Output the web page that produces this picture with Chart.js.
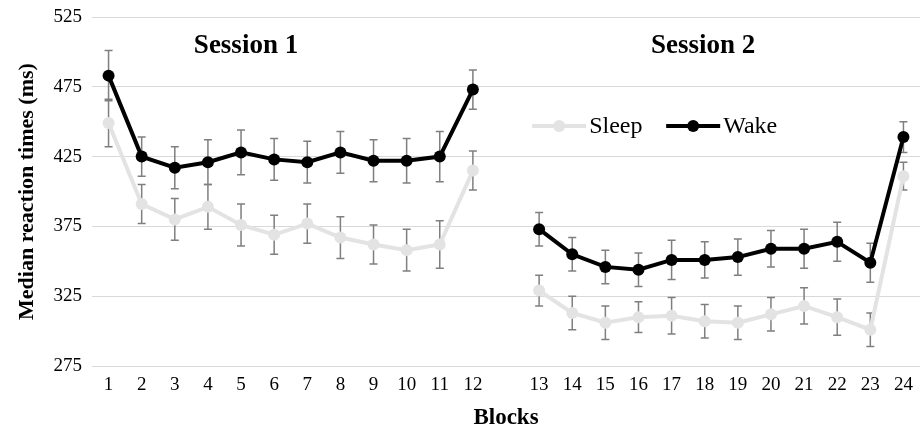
<!DOCTYPE html>
<html>
<head>
<meta charset="utf-8">
<script src="https://cdn.jsdelivr.net/npm/chart.js@4"></script>
<style>
  html, body { margin: 0; padding: 0; background: #fff; }
  #wrap { width: 921px; height: 431px; }
</style>
</head>
<body>
<div id="wrap"><canvas id="chart" width="921" height="431"></canvas></div>
<script>
// Blocks (empty slot separates the two sessions)
const blocks = ['1','2','3','4','5','6','7','8','9','10','11','12','',
                '13','14','15','16','17','18','19','20','21','22','23','24'];

const sleepRT = [449, 391, 380, 389, 376, 369, 377, 367, 362, 358, 362, 415, null,
                 329, 313, 306, 310, 311, 307, 306, 312, 318, 310, 301, 411];
const sleepErr = [17, 14, 15, 16, 15, 14, 14, 15, 14, 15, 17, 14, null,
                  11, 12, 12, 11, 13, 12, 12, 12, 13, 13, 12, 10];

const wakeRT = [483, 425, 417, 421, 428, 423, 421, 428, 422, 422, 425, 473, null,
                373, 355, 346, 344, 351, 351, 353, 359, 359, 364, 349, 439];
const wakeErr = [18, 14, 15, 16, 16, 15, 15, 15, 15, 16, 18, 14, null,
                 12, 12, 12, 12, 14, 13, 13, 13, 14, 14, 14, 11];

const yTicks = [275, 325, 375, 425, 475, 525];

const sessions = [
    { text: 'Session 1', at: 4.15 },
    { text: 'Session 2', at: 17.95 }
];

const sleepColor = '#e3e3e3';
const wakeColor = '#000000';
const serif = "'Liberation Serif', 'Times New Roman', serif";

// error bars, drawn under the lines
const errorBars = {
    id: 'errorBars',
    beforeDatasetsDraw(chart) {
        const ctx = chart.ctx;
        const x = chart.scales.x, y = chart.scales.y;
        const errs = [sleepErr, wakeErr];
        ctx.save();
        ctx.strokeStyle = '#7f7f7f';
        ctx.lineWidth = 1.5;
        chart.data.datasets.forEach(function(ds, d) {
            ds.data.forEach(function(v, i) {
                if (v === null) return;
                const px = x.getPixelForValue(i);
                const top = y.getPixelForValue(v + errs[d][i]);
                const bot = y.getPixelForValue(v - errs[d][i]);
                ctx.beginPath();
                ctx.moveTo(px, top); ctx.lineTo(px, bot);
                ctx.moveTo(px - 4, top); ctx.lineTo(px + 4, top);
                ctx.moveTo(px - 4, bot); ctx.lineTo(px + 4, bot);
                ctx.stroke();
            });
        });
        ctx.restore();
    }
};

// session titles and the in-plot legend
const annotations = {
    id: 'annotations',
    afterDraw(chart) {
        const ctx = chart.ctx;
        const x = chart.scales.x, y = chart.scales.y;
        ctx.save();
        ctx.fillStyle = '#000';
        ctx.textAlign = 'center';
        ctx.textBaseline = 'middle';
        ctx.font = 'bold 27px ' + serif;
        sessions.forEach(function(s) {
            ctx.fillText(s.text, x.getPixelForValue(s.at), y.getPixelForValue(504));
        });

        const ly = y.getPixelForValue(447);
        let lx = x.getPixelForValue(12.79);
        ctx.textAlign = 'left';
        ctx.font = '24px ' + serif;
        chart.data.datasets.forEach(function(ds) {
            ctx.strokeStyle = ds.borderColor;
            ctx.lineWidth = 4;
            ctx.beginPath();
            ctx.moveTo(lx, ly); ctx.lineTo(lx + 54, ly);
            ctx.stroke();
            ctx.fillStyle = ds.borderColor;
            ctx.beginPath();
            ctx.arc(lx + 27, ly, 6, 0, Math.PI * 2);
            ctx.fill();
            ctx.fillStyle = '#000';
            ctx.fillText(ds.label, lx + 57, ly + 1);
            lx += 134;
        });
        ctx.restore();
    }
};

new Chart(document.getElementById('chart'), {
    type: 'line',
    data: {
        labels: blocks,
        datasets: [
            {
                label: 'Sleep',
                data: sleepRT,
                borderColor: sleepColor,
                backgroundColor: sleepColor,
                borderWidth: 4,
                pointRadius: 6,
                pointBorderWidth: 0,
                pointBackgroundColor: sleepColor,
                spanGaps: false,
                tension: 0
            },
            {
                label: 'Wake',
                data: wakeRT,
                borderColor: wakeColor,
                backgroundColor: wakeColor,
                borderWidth: 4,
                pointRadius: 6,
                pointBorderWidth: 0,
                pointBackgroundColor: wakeColor,
                spanGaps: false,
                tension: 0
            }
        ]
    },
    options: {
        responsive: false,
        animation: false,
        layout: { autoPadding: false, padding: { top: 17, right: 1, bottom: 0, left: 0 } },
        plugins: {
            legend: { display: false },
            tooltip: { enabled: false }
        },
        scales: {
            x: {
                type: 'category',
                offset: true,
                grid: { display: false, drawTicks: false },
                border: { display: false },
                ticks: {
                    color: '#000',
                    padding: 8,
                    autoSkip: false,
                    maxRotation: 0,
                    font: { family: serif, size: 19 }
                },
                title: {
                    display: true,
                    text: 'Blocks',
                    color: '#000',
                    padding: { top: 0, bottom: 0 },
                    font: { family: serif, size: 23, weight: 'bold', lineHeight: 1.1 }
                },
                afterFit(scale) {
                    scale.height = 65;
                    scale.paddingLeft = 0;
                    scale.paddingRight = 0;
                }
            },
            y: {
                min: 275,
                max: 525,
                afterBuildTicks(scale) {
                    scale.ticks = yTicks.map(function(v) { return { value: v }; });
                },
                grid: { color: '#d9d9d9', lineWidth: 1, drawTicks: false },
                border: { display: false },
                ticks: {
                    color: '#000',
                    padding: 10,
                    font: { family: serif, size: 19 }
                },
                title: {
                    display: true,
                    text: 'Median reaction times (ms)',
                    color: '#000',
                    padding: { top: 14, bottom: 0 },
                    font: { family: serif, size: 22, weight: 'bold', lineHeight: 1.2 }
                },
                afterFit(scale) {
                    scale.width = 92;
                    scale.paddingTop = 0;
                    scale.paddingBottom = 0;
                }
            }
        }
    },
    plugins: [errorBars, annotations]
});
</script>
</body>
</html>
